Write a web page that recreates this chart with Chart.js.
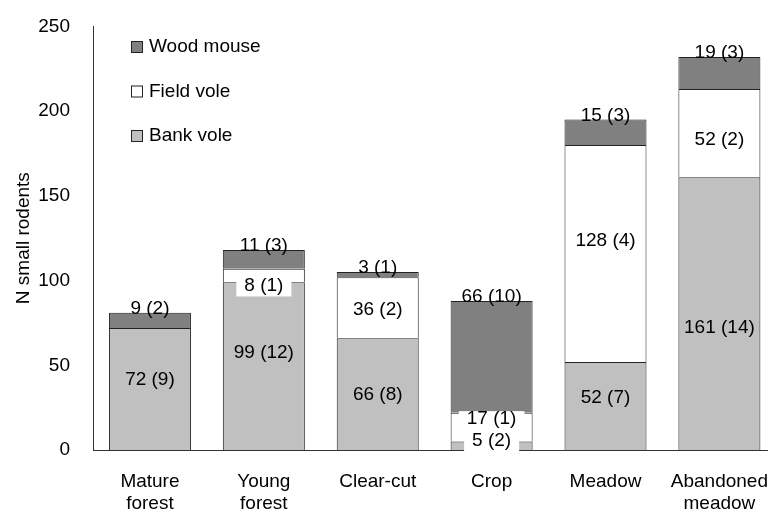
<!DOCTYPE html>
<html>
<head>
<meta charset="utf-8">
<script src="https://cdn.jsdelivr.net/npm/chart.js@4.4.0/dist/chart.umd.min.js"></script>
<style>
  html, body { margin: 0; padding: 0; background: #fff; overflow: hidden; }
  #wrap { width: 780px; height: 512px; }
</style>
</head>
<body>
<div id="wrap"><canvas id="chart" width="780" height="512"></canvas></div>
<script>
const habitats = [['Mature', 'forest'], ['Young', 'forest'], 'Clear-cut', 'Crop', 'Meadow', ['Abandoned', 'meadow']];
const bankVole = [72, 99, 66, 5, 52, 161];
const bankVoleSites = [9, 12, 8, 2, 7, 14];
const fieldVole = [0, 8, 36, 17, 128, 52];
const fieldVoleSites = [0, 1, 2, 1, 4, 2];
const woodMouse = [9, 11, 3, 66, 15, 19];
const woodMouseSites = [2, 3, 1, 10, 3, 3];
const yTicks = [0, 50, 100, 150, 200, 250];

const sites = [bankVoleSites, fieldVoleSites, woodMouseSites];
const FONT = '"Liberation Sans", Arial, sans-serif';

// nudges for the in-bar labels, as in the original figure
const labelShift = { '0-0': -9, '0-1': -13, '0-2': 1, '0-3': -5, '0-4': -8, '0-5': 14,
                     '1-1': 10, '1-2': 2, '1-3': -8, '1-4': -13, '1-5': 7 };
const boxed = ['1-1', '1-3', '0-3'];

const barLabels = {
  id: 'barLabels',
  afterDatasetsDraw(chart) {
    const ctx = chart.ctx;
    ctx.save();
    ctx.font = '19px ' + FONT;
    ctx.textAlign = 'center';
    const items = [];
    chart.data.datasets.forEach((ds, di) => {
      chart.getDatasetMeta(di).data.forEach((bar, i) => {
        const v = ds.data[i];
        if (!v) return;
        const key = di + '-' + i;
        const text = v + ' (' + sites[di][i] + ')';
        if (di === 2) {
          items.push({ text, x: bar.x, y: bar.y + 1, base: 'alphabetic' });
        } else {
          const y = (bar.y + bar.base) / 2 + (labelShift[key] || 0);
          items.push({ text, x: bar.x, y, base: 'middle', box: boxed.includes(key) });
        }
      });
    });
    ctx.fillStyle = '#fff';
    items.filter(it => it.box).forEach(it => {
      const w = ctx.measureText(it.text).width;
      ctx.fillRect(it.x - w / 2 - 8, it.y - 8, w + 16, 19);
    });
    ctx.fillStyle = '#000';
    items.forEach(it => {
      ctx.textBaseline = it.base;
      ctx.fillText(it.text, it.x, it.y);
    });
    ctx.restore();
  }
};

const sideLegend = {
  id: 'sideLegend',
  afterDraw(chart) {
    const ctx = chart.ctx;
    ctx.save();
    ctx.font = '19px ' + FONT;
    ctx.textBaseline = 'middle';
    ctx.textAlign = 'left';
    const list = chart.data.datasets.slice().reverse();
    list.forEach((ds, k) => {
      const cy = 47 + k * 44.5;
      ctx.fillStyle = ds.backgroundColor;
      ctx.fillRect(131.5, cy - 5.5, 11, 11);
      ctx.strokeStyle = '#222';
      ctx.lineWidth = 1;
      ctx.strokeRect(131.5, cy - 5.5, 11, 11);
      ctx.fillStyle = '#000';
      ctx.fillText(ds.label, 149, cy);
    });
    ctx.restore();
  }
};

new Chart(document.getElementById('chart').getContext('2d'), {
  type: 'bar',
  data: {
    labels: habitats,
    datasets: [
      { label: 'Bank vole', data: bankVole, backgroundColor: '#c0c0c0' },
      { label: 'Field vole', data: fieldVole, backgroundColor: '#ffffff' },
      { label: 'Wood mouse', data: woodMouse, backgroundColor: '#808080' },
    ].map(d => Object.assign(d, {
      borderColor: '#222',
      borderWidth: 1,
      borderSkipped: 'start',
      barPercentage: 0.72,
      categoryPercentage: 1,
    })),
  },
  options: {
    responsive: false,
    animation: false,
    layout: { padding: { top: 26, right: 0, bottom: 0, left: 0 } },
    plugins: { legend: { display: false }, tooltip: { enabled: false } },
    scales: {
      x: {
        stacked: true,
        grid: { display: false },
        border: { color: '#333' },
        ticks: { color: '#000', font: { family: FONT, size: 19 }, padding: 12, maxRotation: 0, autoSkip: false },
        afterFit: s => { s.height = 62; },
      },
      y: {
        stacked: true,
        min: 0,
        max: 250,
        afterBuildTicks: s => { s.ticks = yTicks.map(v => ({ value: v })); },
        grid: { display: false },
        border: { color: '#333' },
        ticks: { color: '#000', font: { family: FONT, size: 19 }, padding: 15 },
        title: { display: true, text: 'N small rodents', color: '#000', font: { family: FONT, size: 19 }, padding: { top: 12, bottom: 0 } },
        afterFit: s => { s.width = 93; },
      },
    },
  },
  plugins: [barLabels, sideLegend],
});
</script>
</body>
</html>
